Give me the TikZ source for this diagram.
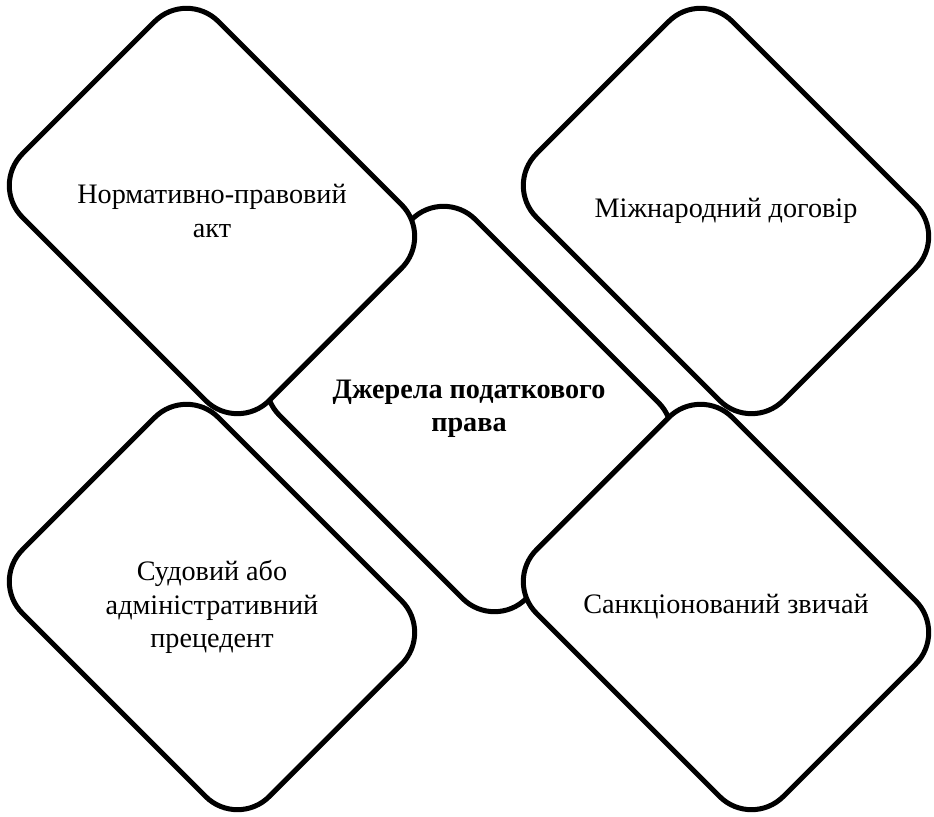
\documentclass[tikz,border=0pt]{standalone}
\usepackage{fontspec}
\setmainfont{Liberation Serif}
\usetikzlibrary{positioning}
\def\dx{257bp}
\def\dy{198bp}
\newcommand{\capfont}{\fontsize{28.3}{33.5}\selectfont}
\tikzstyle{plate}=[draw,fill=white,rectangle,rounded corners=45bp,
  minimum width=349bp,minimum height=277bp,rotate=-45,line width=5bp]
\tikzstyle{plateText}=[align=center,font=\capfont]
\newcommand{\newPlate}[4]{\node[plate,#2](#1){};\node[plateText,#4](#1t) at (#1){#3};}

\begin{document}
\begin{tikzpicture}[x=1bp,y=1bp,node distance=\dy and \dx,on grid]
      \useasboundingbox (-469,-408) rectangle (465,409);
      \newPlate{c}{}{Джерела податкового\\права}{font=\capfont\bfseries}
      \newPlate{tl}{above left=of c}{Нормативно-правовий\\акт}{}
      \newPlate{tr}{above right=of c}{Міжнародний договір}{}
      \newPlate{bl}{below left=of c}{Судовий або\\адміністративний\\прецедент}{}
      \newPlate{br}{below right=of c}{Санкціонований звичай}{}
\end{tikzpicture}
\end{document}
